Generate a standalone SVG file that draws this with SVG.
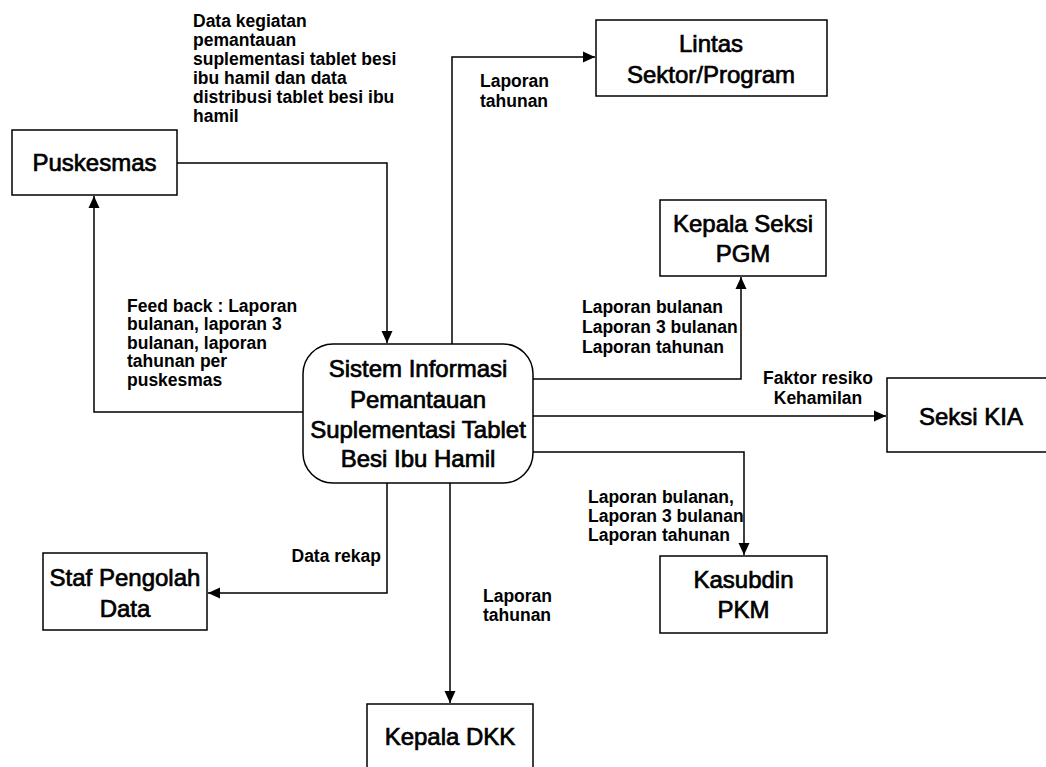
<svg xmlns="http://www.w3.org/2000/svg" width="1046" height="767" viewBox="0 0 1046 767">
<style>
.box{fill:#fff;stroke:#000;stroke-width:1.5}
.nt{font-family:"Liberation Sans",Arial,sans-serif;font-size:24px;fill:#000;stroke:#000;stroke-width:0.7;text-anchor:middle}
.lb{font-family:"Liberation Sans",Arial,sans-serif;font-size:17.5px;font-weight:bold;fill:#000}
.cn{fill:none;stroke:#000;stroke-width:1.5}
</style>
<defs>
<marker id="ah" markerUnits="userSpaceOnUse" markerWidth="12" markerHeight="12" viewBox="0 0 12 12" refX="12" refY="6" orient="auto">
<path d="M0,0.5 L12,6 L0,11.5 Z" fill="#000"/>
</marker>
</defs>
<rect width="1046" height="767" fill="#fff"/>
<g id="connectors">
<path class="cn" d="M177,163 H387 V343" marker-end="url(#ah)"/>
<path class="cn" d="M303,412 H94 V196" marker-end="url(#ah)"/>
<path class="cn" d="M452,344 V57 H595" marker-end="url(#ah)"/>
<path class="cn" d="M533,379 H741 V277" marker-end="url(#ah)"/>
<path class="cn" d="M533,416 H886" marker-end="url(#ah)"/>
<path class="cn" d="M533,452 H744 V555" marker-end="url(#ah)"/>
<path class="cn" d="M450,483 V703" marker-end="url(#ah)"/>
<path class="cn" d="M387,483 V593 H208" marker-end="url(#ah)"/>
</g>
<g id="labels">
<text class="lb" x="193" y="27">Data kegiatan</text>
<text class="lb" x="193" y="46">pemantauan</text>
<text class="lb" x="193" y="65">suplementasi tablet besi</text>
<text class="lb" x="193" y="84">ibu hamil dan data</text>
<text class="lb" x="193" y="103">distribusi tablet besi ibu</text>
<text class="lb" x="193" y="122">hamil</text>
<text class="lb" x="480" y="87">Laporan</text>
<text class="lb" x="480" y="107">tahunan</text>
<text class="lb" x="127" y="312">Feed back : Laporan</text>
<text class="lb" x="127" y="330">bulanan, laporan 3</text>
<text class="lb" x="127" y="349">bulanan, laporan</text>
<text class="lb" x="127" y="367">tahunan per</text>
<text class="lb" x="127" y="386">puskesmas</text>
<text class="lb" x="582" y="313">Laporan bulanan</text>
<text class="lb" x="582" y="333">Laporan 3 bulanan</text>
<text class="lb" x="582" y="353">Laporan tahunan</text>
<text class="lb" x="818" y="384" text-anchor="middle">Faktor resiko</text>
<text class="lb" x="818" y="404" text-anchor="middle">Kehamilan</text>
<text class="lb" x="588" y="503">Laporan bulanan,</text>
<text class="lb" x="588" y="522">Laporan 3 bulanan</text>
<text class="lb" x="588" y="541">Laporan tahunan</text>
<text class="lb" x="381" y="562" text-anchor="end">Data rekap</text>
<text class="lb" x="483" y="602">Laporan</text>
<text class="lb" x="483" y="621">tahunan</text>
</g>
<g id="puskesmas">
<rect class="box" x="12" y="130" width="165" height="65"/>
<text class="nt" x="94.5" y="171">Puskesmas</text>
</g>
<g id="sistem">
<rect class="box" x="303" y="344" width="230" height="139" rx="30" ry="30"/>
<text class="nt" x="418" y="377">Sistem Informasi</text>
<text class="nt" x="418" y="408">Pemantauan</text>
<text class="nt" x="418" y="438">Suplementasi Tablet</text>
<text class="nt" x="418" y="467">Besi Ibu Hamil</text>
</g>
<g id="lintas">
<rect class="box" x="596" y="20" width="231" height="76"/>
<text class="nt" x="711" y="52">Lintas</text>
<text class="nt" x="711" y="83">Sektor/Program</text>
</g>
<g id="pgm">
<rect class="box" x="660" y="200" width="166" height="76"/>
<text class="nt" x="743" y="232">Kepala Seksi</text>
<text class="nt" x="743" y="262">PGM</text>
</g>
<g id="kia">
<rect class="box" x="887" y="378" width="175" height="74"/>
<text class="nt" x="971" y="425">Seksi KIA</text>
</g>
<g id="kasubdin">
<rect class="box" x="660" y="556" width="167" height="77"/>
<text class="nt" x="743.5" y="588">Kasubdin</text>
<text class="nt" x="743.5" y="618">PKM</text>
</g>
<g id="staf">
<rect class="box" x="43" y="553" width="164" height="77"/>
<text class="nt" x="125" y="586">Staf Pengolah</text>
<text class="nt" x="125" y="617">Data</text>
</g>
<g id="dkk">
<rect class="box" x="367" y="704" width="166" height="80"/>
<text class="nt" x="450" y="745">Kepala DKK</text>
</g>
</svg>
